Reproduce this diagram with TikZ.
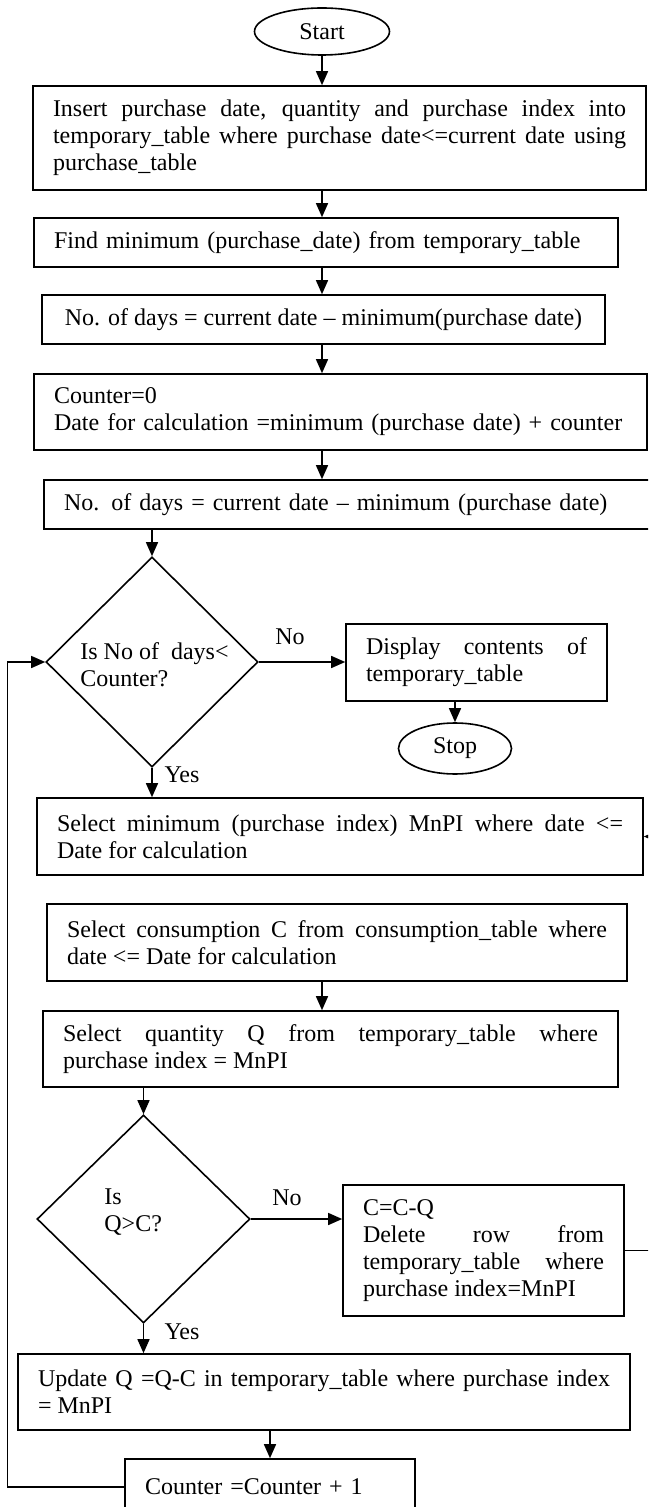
\documentclass[tikz,border=0pt]{standalone}
\usepackage{fontspec}
\setmainfont{Liberation Serif}
\usetikzlibrary{shapes.geometric,arrows.meta}
\hyphenpenalty=10000
\exhyphenpenalty=10000
\begin{document}
\begin{tikzpicture}[x=0.5pt,y=-0.5pt,
  pbox/.style={draw, line width=0.8pt, inner xsep=10pt, inner ysep=0pt, align=justify, font=\fontsize{12}{13.5}\selectfont},
  lbox/.style={pbox, align=left},
  cbox/.style={draw, line width=0.8pt, inner xsep=4pt, inner ysep=0pt, font=\fontsize{12}{13.5}\selectfont},
  term/.style={draw, ellipse, line width=0.8pt, inner sep=0pt, font=\fontsize{12}{13.5}\selectfont},
  dec/.style={draw, diamond, line width=0.8pt, inner sep=0pt},
  lbl/.style={inner sep=0pt, font=\fontsize{12}{13.5}\selectfont},
  arr/.style={-{Triangle[length=7pt,width=6pt]}, line width=0.7pt}]
\useasboundingbox (0,0) rectangle (648,1507);
\clip (0,0) rectangle (648,1507);
\fill[white] (0,0) rectangle (648,1507);

\node[term, minimum width=67.5pt, minimum height=23.5pt] (start) at (322,31.5) {Start};
\node[pbox, text width=286.5pt, minimum height=52pt] (b1) at (339.5,138) {Insert purchase date, quantity and purchase index into\linebreak temporary\_table where purchase date<=current date using\linebreak purchase\_table};
\node[lbox, text width=272pt, minimum height=24.5pt] (b2) at (326,242.5) {Find minimum (purchase\_date) from temporary\_table};
\node[cbox, minimum width=281.5pt, minimum height=24.5pt] (b3) at (323.5,319.5) {No. of days = current date -- minimum(purchase date)};
\node[lbox, text width=286.5pt, minimum height=38pt] (b4) at (340.5,412) {Counter=0\\Date for calculation =minimum (purchase date) + counter};
\node[lbox, text width=288pt, minimum height=24.5pt] (b5) at (352,504.5) {No. of days = current date -- minimum (purchase date)};

\node[dec, minimum width=106pt, minimum height=105pt] (d1) at (152,662) {};
\node[lbl, anchor=west, align=left] (d1t) at (80,665) {Is No of~ days<\\Counter?};
\node[pbox, text width=110.5pt, minimum height=38.5pt] (disp) at (476.5,662.5) {Display contents of\linebreak temporary\_table};
\node[term, minimum width=56.5pt, minimum height=25.5pt] (stop) at (455,748.5) {Stop};

\node[pbox, text width=283pt, minimum height=38.5pt] (b6) at (340,836.5) {Select minimum (purchase index) MnPI where date <=\linebreak Date for calculation};
\node[pbox, text width=270pt, minimum height=38.5pt] (b7) at (337,942.5) {Select consumption C from consumption\_table where\linebreak date <= Date for calculation};
\node[pbox, text width=267.5pt, minimum height=38pt] (b8) at (330.5,1049) {Select quantity Q from temporary\_table where\linebreak purchase index = MnPI};

\node[dec, minimum width=106.5pt, minimum height=104pt] (d2) at (143.5,1219) {};
\node[lbl, anchor=west, align=left] (d2t) at (104,1212) {Is\\Q>C?};
\node[pbox, text width=120.5pt, minimum height=65.5pt] (cb) at (483.5,1250.5) {C=C-Q\\Delete row from\linebreak temporary\_table where\linebreak purchase index=MnPI};

\node[pbox, text width=286pt, minimum height=38pt] (b9) at (324,1392) {Update Q =Q-C in temporary\_table where purchase index\linebreak = MnPI};
\node[lbox, text width=125pt, minimum height=28pt] (b10) at (270,1487) {Counter =Counter + 1};

\node[lbl] (no1) at (290,637) {No};
\node[lbl] (yes1) at (182,775) {Yes};
\node[lbl] (no2) at (287,1198) {No};
\node[lbl] (yes2) at (182,1332) {Yes};

\coordinate (lx) at (7.5,0);
\coordinate (rx) at (665,0);

\draw[arr] (start.south) -- (start.south |- b1.north);
\draw[arr] (b1.south -| start) -- (b2.north -| start);
\draw[arr] (b2.south -| start) -- (b3.north -| start);
\draw[arr] (b3.south -| start) -- (b4.north -| start);
\draw[arr] (b4.south -| start) -- (b5.north -| start);
\draw[arr] (b5.south -| d1.north) -- (d1.north);
\draw[arr] (d1.east) -- (d1.east -| disp.west);
\draw[arr] (disp.south -| stop) -- (stop.north);
\draw[arr] (d1.south) -- (d1.south |- b6.north);
\draw[arr] (b7.south -| start) -- (b8.north -| start);
\draw[arr] (b8.south -| d2.north) -- (d2.north);
\draw[arr] (d2.east) -- (d2.east -| cb.west);
\draw[arr] (d2.south) -- (d2.south |- b9.north);
\draw[arr] (b9.south -| b10.north) -- (b10.north);
\draw[arr] (b10.west) -- (b10.west -| lx) |- (d1.west);
\draw[arr] (cb.east) -- (cb.east -| rx) |- (b6.east);
\end{tikzpicture}
\end{document}
